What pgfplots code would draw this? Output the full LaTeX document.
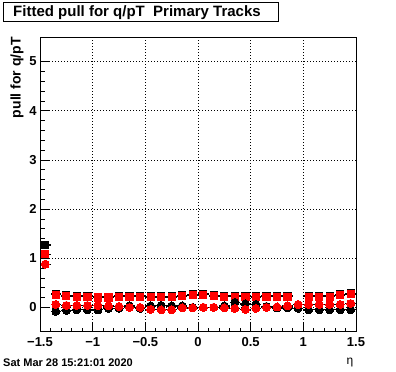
\documentclass[border=0pt]{standalone}
\usepackage{fontspec}
\setmainfont{Liberation Sans}
\usepackage{pgfplots}
\pgfplotsset{compat=1.18}
\usepackage{pgfplotstable}
\pgfplotstableread{
x y
-1.45 1.27
-1.35 0.28
-1.25 0.245
-1.15 0.235
-1.05 0.235
-0.95 0.215
-0.85 0.215
-0.75 0.235
-0.65 0.235
-0.55 0.235
-0.45 0.225
-0.35 0.225
-0.25 0.225
-0.15 0.245
-0.05 0.27
0.05 0.28
0.15 0.245
0.25 0.235
0.35 0.235
0.45 0.235
0.55 0.225
0.65 0.235
0.75 0.235
0.85 0.235
1.05 0.235
1.15 0.235
1.25 0.235
1.35 0.265
1.45 0.285
}\blacksq
\pgfplotstableread{
x y
-1.45 1.08
-1.35 0.26
-1.25 0.23
-1.15 0.22
-1.05 0.22
-0.95 0.20
-0.85 0.20
-0.75 0.22
-0.65 0.22
-0.55 0.22
-0.45 0.21
-0.35 0.21
-0.25 0.21
-0.15 0.23
-0.05 0.25
0.05 0.26
0.15 0.23
0.25 0.22
0.35 0.22
0.45 0.22
0.55 0.21
0.65 0.22
0.75 0.22
0.85 0.22
1.05 0.22
1.15 0.22
1.25 0.22
1.35 0.25
1.45 0.27
}\redsq
\pgfplotstableread{
x y
-1.35 -0.08
-1.25 -0.06
-1.15 -0.05
-1.05 -0.05
-0.95 -0.05
-0.85 -0.02
-0.75 -0.02
-0.65 0.03
-0.55 -0.02
-0.45 0.03
-0.35 0.04
-0.25 0.03
-0.15 0.03
-0.05 0.00
0.05 0.00
0.15 0.00
0.25 0.03
0.35 0.10
0.45 0.07
0.55 0.06
0.65 0.02
0.75 -0.01
0.85 -0.01
0.95 -0.02
1.05 -0.05
1.15 -0.05
1.25 -0.05
1.35 -0.05
1.45 -0.05
}\blackci
\pgfplotstableread{
x y
-1.45 0.88
-1.35 0.06
-1.25 0.04
-1.15 0.04
-1.05 0.04
-0.95 0.04
-0.85 0.03
-0.75 0.02
-0.65 0.00
-0.55 0.00
-0.45 -0.04
-0.35 -0.05
-0.25 -0.05
-0.15 -0.01
-0.05 -0.01
0.05 0.00
0.15 0.00
0.25 -0.01
0.35 -0.02
0.45 -0.04
0.55 -0.02
0.65 0.00
0.75 0.01
0.85 0.03
0.95 0.06
1.05 0.06
1.15 0.06
1.25 0.06
1.35 0.06
1.45 0.08
}\redci
\begin{document}
\begin{tikzpicture}
\useasboundingbox (0,0) rectangle (396bp,372bp);
\begin{axis}[
  at={(40bp,40bp)}, anchor=south west,
  scale only axis, width=316bp, height=295bp,
  xmin=-1.5, xmax=1.5, ymin=-0.5, ymax=5.5,
  xtick={-1.5,-1,-0.5,0,0.5,1,1.5},
  xticklabels={−1.5,−1,−0.5,0,0.5,1,1.5},
  ytick={0,1,2,3,4,5},
  yticklabels={0,1,2,3,4,5},
  minor x tick num=4, minor y tick num=4,
  tick align=inside, xtick pos=bottom, ytick pos=left,
  major tick length=9bp, minor tick length=4.5bp,
  tick style={black, line width=0.8bp},
  axis line style={line width=1bp},
  grid=major,
  major grid style={black, line width=0.8bp, dash pattern=on 1bp off 2bp},
  tick label style={font=\fontsize{13bp}{15bp}\selectfont\bfseries},
  xticklabel style={yshift=-2bp},
  error bars/error bar style={black, line width=1.2bp},
]
\addplot[only marks, mark=square*, mark size=3.6bp, mark options={black, line width=0pt},
  error bars/.cd, x dir=both, x fixed=0.05, error mark=none] table[x=x,y=y] {\blacksq};
\addplot[only marks, mark=square*, mark size=3.6bp, mark options={red, draw=red, line width=0pt},
  error bars/.cd, x dir=both, x fixed=0.05, error mark=none] table[x=x,y=y] {\redsq};
\addplot[only marks, mark=*, mark size=4bp, mark options={black, line width=0pt},
  error bars/.cd, x dir=both, x fixed=0.05, error mark=none] table[x=x,y=y] {\blackci};
\addplot[only marks, mark=*, mark size=4bp, mark options={red, draw=red, line width=0pt},
  error bars/.cd, x dir=both, x fixed=0.05, error mark=none] table[x=x,y=y] {\redci};
\end{axis}
\draw[line width=1bp] (3bp,350bp) rectangle (278bp,369bp);
\node[anchor=west, inner sep=0pt] at (13bp,359.5bp) {\fontsize{15bp}{17bp}\selectfont\bfseries Fitted pull for q/pT\ \ Primary Tracks};
\node[rotate=90, anchor=east, inner sep=0pt] at (17bp,335bp) {\fontsize{14bp}{16bp}\selectfont\bfseries pull for q/pT};
\node[anchor=center, inner sep=0pt] at (350bp,9bp) {\fontsize{12bp}{14bp}\selectfont η};
\node[anchor=west, inner sep=0pt] at (3bp,9bp) {\fontsize{11bp}{13bp}\selectfont\bfseries Sat Mar 28 15:21:01 2020};
\end{tikzpicture}
\end{document}
